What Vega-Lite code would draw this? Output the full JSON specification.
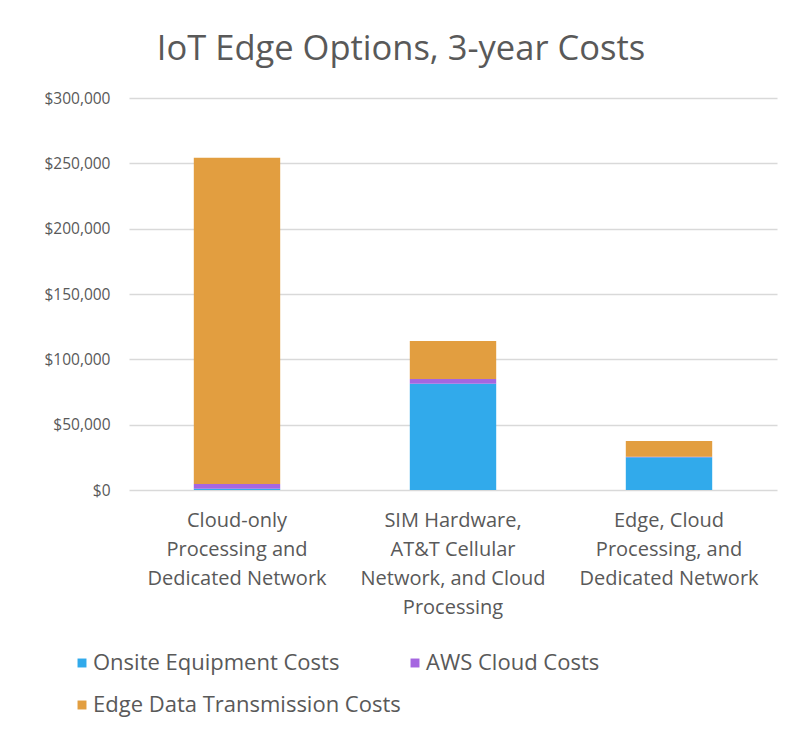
{
  "$schema": "https://vega.github.io/schema/vega-lite/v6.json",
  "autosize": "none",
  "padding": {"left": 129, "top": 98, "right": 28, "bottom": 244},
  "width": 648,
  "height": 392,
  "background": "white",
  "title": {
    "text": "IoT Edge Options, 3-year Costs",
    "fontSize": 34.5,
    "font": "Open Sans",
    "fontWeight": "normal",
    "color": "#595959",
    "anchor": "middle",
    "dx": -52,
    "offset": 24
  },
  "data": {
    "values": [
      {"option": "Cloud-only|Processing and|Dedicated Network", "cost": "Onsite Equipment Costs", "k": 1, "usd": 1000},
      {"option": "Cloud-only|Processing and|Dedicated Network", "cost": "AWS Cloud Costs", "k": 2, "usd": 3600},
      {"option": "Cloud-only|Processing and|Dedicated Network", "cost": "Edge Data Transmission Costs", "k": 3, "usd": 249600},
      {"option": "SIM Hardware,|AT&T Cellular|Network, and Cloud|Processing", "cost": "Onsite Equipment Costs", "k": 1, "usd": 81300},
      {"option": "SIM Hardware,|AT&T Cellular|Network, and Cloud|Processing", "cost": "AWS Cloud Costs", "k": 2, "usd": 3600},
      {"option": "SIM Hardware,|AT&T Cellular|Network, and Cloud|Processing", "cost": "Edge Data Transmission Costs", "k": 3, "usd": 29100},
      {"option": "Edge, Cloud|Processing, and|Dedicated Network", "cost": "Onsite Equipment Costs", "k": 1, "usd": 25000},
      {"option": "Edge, Cloud|Processing, and|Dedicated Network", "cost": "AWS Cloud Costs", "k": 2, "usd": 500},
      {"option": "Edge, Cloud|Processing, and|Dedicated Network", "cost": "Edge Data Transmission Costs", "k": 3, "usd": 12000}
    ]
  },
  "mark": {"type": "bar"},
  "encoding": {
    "x": {
      "field": "option",
      "type": "nominal",
      "sort": null,
      "title": null,
      "scale": {"paddingInner": 0.6, "paddingOuter": 0.3},
      "axis": {
        "labelExpr": "split(datum.label, '|')",
        "labelAngle": 0,
        "labelFontSize": 20,
        "labelFont": "Open Sans",
        "labelColor": "#595959",
        "labelLineHeight": 29,
        "labelPadding": 20,
        "labelLimit": 300,
        "ticks": false,
        "domain": false
      }
    },
    "y": {
      "field": "usd",
      "type": "quantitative",
      "stack": "zero",
      "title": null,
      "scale": {"domain": [0, 300000]},
      "axis": {
        "values": [0, 50000, 100000, 150000, 200000, 250000, 300000],
        "format": "$,.0f",
        "labelFontSize": 15.5,
        "labelFont": "Open Sans",
        "labelColor": "#595959",
        "labelPadding": 19,
        "ticks": false,
        "domain": false,
        "gridColor": "#d9d9d9",
        "gridWidth": 1.5
      }
    },
    "order": {"field": "k"},
    "color": {
      "field": "cost",
      "type": "nominal",
      "scale": {
        "domain": ["Onsite Equipment Costs", "Edge Data Transmission Costs", "AWS Cloud Costs"],
        "range": ["#31AAEB", "#E29E40", "#A566E0"]
      },
      "legend": {
        "title": null,
        "orient": "none",
        "legendX": -58,
        "legendY": 554,
        "columns": 2,
        "columnPadding": 3,
        "rowPadding": 20,
        "symbolType": "square",
        "symbolSize": 80,
        "symbolStrokeWidth": 0,
        "labelFontSize": 22,
        "labelFont": "Open Sans",
        "labelColor": "#595959",
        "labelOffset": 0,
        "labelLimit": 400
      }
    }
  },
  "config": {"view": {"stroke": null}}
}
